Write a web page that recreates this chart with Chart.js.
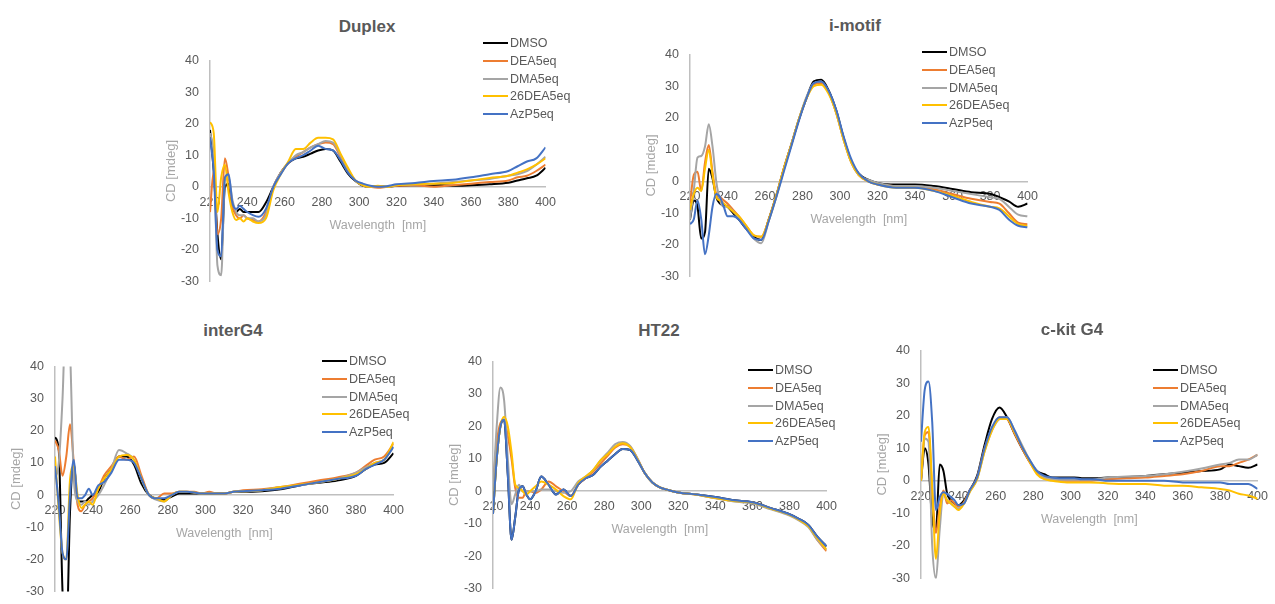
<!DOCTYPE html>
<html lang="en">
<head>
<meta charset="UTF-8">
<title>CD spectra</title>
<script src="https://cdn.jsdelivr.net/npm/chart.js"></script>
<style>
    html, body { margin: 0; padding: 0; background: #fff; overflow: hidden; }
    body { width: 1275px; height: 604px; position: relative; font-family: 'Liberation Sans', Arial, sans-serif; }
    canvas { position: absolute; }
    .title { position: absolute; font-weight: bold; font-size: 17px; color: #595959; transform: translate(-50%, -50%); white-space: nowrap; }
    .legend { position: absolute; font-size: 12.5px; color: #595959; }
    .legend .row { height: 17.8px; display: flex; align-items: center; white-space: nowrap; }
    .legend .sw { display: inline-block; width: 25px; height: 2px; margin-right: 2px; }
</style>
</head>
<body>
<script>
    // wavelength grid (nm), shared by all five spectra
    const wavelengths = [220,222,224,226,228,230,232,234,236,238,240,243,246,250,254,258,262,266,270,274,278,282,286,290,294,298,302,306,310,315,320,330,340,350,360,370,380,385,390,395,400];
    const seriesNames = ['DMSO', 'DEA5eq', 'DMA5eq', '26DEA5eq', 'AzP5eq'];
    const xTicks = { min: 220, max: 400, step: 20 };
    const yTicks = { min: -30, max: 40, step: 10 };

    // Duplex
    const duplexDMSO = [18,5,-15,-23,0,1,-7,-8,-7,-8,-8,-8,-8,-5,0,4.5,7.5,9,9.5,10.5,11.5,12,11.5,8,4.2,1.8,0.3,0,0.2,0,0.3,0.5,0.6,0.3,0.5,0.8,1.3,2,2.7,3.5,6];
    const duplexDEA = [-8,5,-15,-10,9,3,-6,-9,-10,-9,-10,-10.5,-11,-8,0,4.5,7.5,9.5,11,12.5,13.5,14,13.5,9.5,5,2,0.5,0,-0.3,0,0.3,0.5,0,0.5,1,1.5,2,3,3.5,5,7];
    const duplexDMA = [17,10,-25,-28,2,3,-4,-8,-9,-9,-10,-10,-11,-9,0,4.5,7.5,10,11,12.5,13.5,14.5,14,10,5.5,2,0.5,0,0.2,0,0.5,0.8,1,1.5,2,2.5,3.5,4,5,7,9.5];
    const duplex26DEA = [20.5,17,-8,3,7,-2,-8,-10.5,-10,-11,-10,-11,-11.5,-10,-1,4,8,12,12,14,15.5,15.5,15,10.5,6,2,0.5,0,0.3,0,0.5,0.8,1,1.2,2,2.8,3.5,4.5,5.5,7,9];
    const duplexAzP = [15.5,5,-20,-22,3,4,-5,-7,-6,-7,-8,-9,-9.5,-7,0,4,7.5,9,10,11.5,13,12,11.5,8.5,4.5,2,1,0.3,0,0.2,0.8,1.2,1.8,2.2,3,4,5,6.5,8,9,12.5];

    // i-motif
    const imotifDMSO = [-12,-6,-8,-18,-16,4,1,-5,-7,-7.5,-8,-10,-12,-15,-17.5,-18.5,-12,-4.5,4,11.6,19.4,26,31.5,32,28.6,22.3,13.6,6.3,2.4,0.5,-0.5,-1,-1,-1.5,-2.4,-3.4,-3.9,-5,-6.3,-8,-7];
    const imotifDEA = [-7,2,3,-3,6,11.5,3,-4,-5,-6,-7,-9,-11,-14,-17,-17.5,-12,-4.5,4,11.6,19.4,26,30.5,31,28,21.5,13,6,2,0,-1,-1.5,-2,-2.5,-4,-5.5,-6.5,-7,-10,-13,-13.5];
    const imotifDMA = [-12,-3,7.5,8,11,18,11,0,-6,-8,-8,-9.5,-11.5,-14.5,-18,-19.5,-12.5,-5,3.5,11.5,19.5,26.5,31,31.5,28,21.5,13,6,2,0.5,-0.5,-1.5,-1.5,-2,-3,-4,-5,-5.5,-8,-10.5,-11];
    const imotif26DEA = [-9,-4,-2,-3,4,10,2,-5,-6,-7,-8,-9.5,-11,-14,-17,-17.5,-12,-4.5,4,11.5,19.5,26,30,30.5,27.5,21.5,13,6,2,0,-1,-2,-2,-3,-4.5,-6.5,-8,-8.5,-11,-13.5,-14];
    const imotifAzP = [-13.5,-12,-6,-12,-23,-17,-8,-4,-5,-8,-11,-11,-12,-15,-18,-18.5,-12.5,-5,3,11,19,26,31,31.5,28.5,22.5,14,7,2.5,0,-1,-2,-2,-3,-5,-7,-8,-9,-12,-14,-14.5];

    // interG4
    const interDMSO = [18,14,-30,-45,-5,10,-2,-2,-2,-1,0,1,5,8,12,12,9.5,3.5,0,-1.2,-1.5,-0.5,0.5,0.5,0.5,0.5,0.5,0.5,0.5,1,1,1.2,1.8,3,3.8,4.5,6,8,9.5,10,13];
    const interDEA = [17,14,6,12,22,10,-3,-5,-3,-2,-1,2,6,9,12,11,12,6,0,-1,0.5,0.5,1,1,1,0.5,1,0.5,0.5,1,1.5,1.8,2.5,3.5,4.5,5.5,7,9,11,12,16];
    const interDMA = [5,10,30,60,45,5,-2,-3,-2,-3,-2,0,3,8,14,13,11,5,0,-1.5,-2,0,1,1,0.8,0.5,0.5,0.5,0.5,1,1.2,1.5,2.5,3,4,5,7,8.5,10,11,15];
    const inter26DEA = [12,-5,-18,-20,5,9,0,-4,-3,-2,-3,2,5,8,12,12.5,11,5,0,-1,-2,0,1,1,0.8,0.5,0.5,0.5,0.5,1,1.2,1.5,2.5,3.2,4,5,6.5,8,10,11,16.5];
    const interAzP = [9,-3,-18,-20,0,11,-1,-1,0,2,0,3,4,7,11,11,10,5,0,-1,-1,0,1,1,0.8,0.5,0.5,0.5,0.5,1,1.2,1.5,2,3,4,5,6,8,9.5,11,15];

    // HT22
    const ht22DMSO = [-7,10,20,22,5,-15,-8,0.5,1.5,-1,-2.5,0,4.5,2,-1,0.5,-1.5,2,4,5,7.5,9.5,11.5,13,12.7,9.5,5.5,2.7,1.2,0.3,-0.4,-1,-1.8,-2.8,-3.4,-5.2,-7.1,-8.5,-10.3,-14,-17];
    const ht22DEA = [2,15,21,22,17,10,1,-2,-2,0,0,-0.5,0.5,3,1.5,0,-1.5,2,4,6,8.5,11,13.5,14.5,13.8,10,5.5,2.7,1.2,0.3,-0.4,-1.1,-2.1,-3,-3.5,-5.4,-7.3,-8.8,-10.7,-15,-18.5];
    const ht22DMA = [0,20,32,28,10,-4,-1,2,0,0,0,0,0.5,0.5,0,-0.5,0,3,4.5,6.5,9.5,12,14.5,15.2,14,10,5.5,2.7,1.2,0.3,-0.4,-1.1,-2.2,-3.2,-3.8,-5.6,-7.5,-9,-11,-15,-18];
    const ht2226DEA = [-7,10,20,23,20,12,2,1,0,-1,0,1.5,3,2,0.5,-1.5,-2.5,2.5,4.5,6.5,9.5,11.5,13.8,14.8,13.6,9.8,5.5,2.7,1.2,0.3,-0.4,-1.1,-2.1,-3,-3.5,-5.4,-7.3,-8.8,-10.7,-14.5,-18];
    const ht22AzP = [-7,10,20,22,5,-15,-8,0.5,1.5,-1,-2.5,0,4.5,2,-1,0.5,-1.5,2,4,5,7.5,9.5,11.5,13,12.7,9.5,5.5,2.7,1.2,0.3,-0.4,-1,-1.8,-2.8,-3.4,-5.2,-7.1,-8.5,-10.3,-14,-17];

    // c-kit G4
    const ckitDMSO = [0,10,5,-12,-15,5,3,-4,-6,-7,-7.5,-6,-3,1.5,11,19,22.5,19.5,14.5,10,6,3,2,1,1,1,1,0.8,0.8,0.8,1,1.2,1.5,2,2.5,3,3.5,5,4.5,4,5];
    const ckitDEA = [0,14,15,-3,-16,-8,-3,-7,-6,-7,-8,-6.5,-3,1,10,16,19.5,19,14.5,10,5.8,2.5,1,0.5,0,0,0,0,0,0.3,0.5,0.8,1,1.5,2,3,4.5,4.5,5.5,6.5,8];
    const ckitDMA = [0,13,12,-20,-30,-15,-4,-6,-7,-8,-8.5,-7,-3.5,0.5,9,15.5,19,19.5,15.5,11,6.5,3,1,0.5,0.3,0.3,0.3,0.3,0.3,0.6,1,1.3,1.5,2,2.8,3.8,5,5.5,6.5,6.5,8];
    const ckit26DEA = [0,15,16.5,-2,-24,-10,-4,-6,-7,-8,-9,-7,-3.5,0.5,9,15.5,19,19,15,10.5,6,2,0.5,0,-0.3,-0.5,-0.5,-0.5,-0.5,-0.6,-0.8,-1,-1,-1.5,-1.5,-2,-2.5,-3,-4,-4.5,-5.5];
    const ckitAzP = [12,28,30.5,18,-9,-5,-3.5,-4,-5,-6,-7.5,-7,-3,1,10,16.5,19.5,19.5,15.5,10.5,6.5,3,1.5,1,0.8,0.8,0.8,0.5,0.5,0.3,0,0,0,0,-0.5,-0.5,-0.5,-1,-1,-1,-2.5];

    const seriesColors = ['#000000', '#ED7D31', '#A5A5A5', '#FFC000', '#4472C4'];
    const fontFamily = "'Liberation Sans', Arial, sans-serif";
    const axisColor = '#bfbfbf';

    // plot area (L,R,T,B), title centre and legend start for each panel
    const panels = [
        { title: 'Duplex', values: [duplexDMSO, duplexDEA, duplexDMA, duplex26DEA, duplexAzP],
          L: 210, R: 552, T: 52, B: 290, tx: 367, ty: 27, lx: 483, ly: 43 },
        { title: 'i-motif', values: [imotifDMSO, imotifDEA, imotifDMA, imotif26DEA, imotifAzP],
          L: 690, R: 1034, T: 46, B: 285, tx: 855, ty: 26, lx: 922, ly: 52 },
        { title: 'interG4', values: [interDMSO, interDEA, interDMA, inter26DEA, interAzP],
          L: 55, R: 400, T: 358, B: 600, tx: 233, ty: 331, lx: 322, ly: 361 },
        { title: 'HT22', values: [ht22DMSO, ht22DEA, ht22DMA, ht2226DEA, ht22AzP],
          L: 493, R: 833, T: 353, B: 597, tx: 659, ty: 331, lx: 748, ly: 370 },
        { title: 'c-kit G4', values: [ckitDMSO, ckitDEA, ckitDMA, ckit26DEA, ckitAzP],
          L: 921, R: 1264, T: 342, B: 587, tx: 1072, ty: 330, lx: 1153, ly: 370 }
    ];

    Chart.defaults.font.family = fontFamily;

    const yAxisWidth = 46, padRight = 12, padV = 10;

    panels.forEach(p => {
        const canvas = document.createElement('canvas');
        canvas.width = p.R - p.L + yAxisWidth + padRight;
        canvas.height = p.B - p.T + 2 * padV;
        canvas.style.left = (p.L - yAxisWidth) + 'px';
        canvas.style.top = (p.T - padV) + 'px';
        document.body.appendChild(canvas);

        const title = document.createElement('div');
        title.className = 'title';
        title.style.left = p.tx + 'px';
        title.style.top = p.ty + 'px';
        title.textContent = p.title;
        document.body.appendChild(title);

        const legend = document.createElement('div');
        legend.className = 'legend';
        legend.style.left = p.lx + 'px';
        legend.style.top = (p.ly - 8.9) + 'px';
        seriesNames.forEach((name, i) => {
            const row = document.createElement('div');
            row.className = 'row';
            const sw = document.createElement('span');
            sw.className = 'sw';
            sw.style.background = seriesColors[i];
            row.appendChild(sw);
            row.appendChild(document.createTextNode(name));
            legend.appendChild(row);
        });
        document.body.appendChild(legend);

        new Chart(canvas, {
            type: 'line',
            data: {
                datasets: seriesNames.map((name, i) => ({
                    label: name,
                    data: wavelengths.map((w, k) => ({ x: w, y: p.values[i][k] })),
                    borderColor: seriesColors[i],
                    borderWidth: 2,
                    pointRadius: 0,
                    fill: false,
                    cubicInterpolationMode: 'monotone',
                    order: seriesNames.length - i
                }))
            },
            options: {
                responsive: false,
                animation: false,
                layout: { padding: { left: 0, right: padRight, top: padV, bottom: padV } },
                plugins: { legend: { display: false }, tooltip: { enabled: false } },
                scales: {
                    x: {
                        type: 'linear',
                        min: xTicks.min, max: xTicks.max,
                        position: { y: 0 },
                        ticks: { stepSize: xTicks.step, color: '#595959', font: { size: 12.5 }, padding: 8, maxRotation: 0, autoSkip: false },
                        grid: { display: false, drawTicks: false },
                        border: { color: axisColor, width: 1.5 },
                        title: { display: true, text: 'Wavelength  [nm]', color: '#a6a6a6', font: { size: 12.5 }, padding: { top: 0, bottom: 0 } }
                    },
                    y: {
                        min: yTicks.min, max: yTicks.max,
                        ticks: { stepSize: yTicks.step, color: '#595959', font: { size: 12.5 }, padding: 11 },
                        grid: { display: false, drawTicks: false },
                        border: { color: axisColor, width: 1.5 },
                        title: { display: true, text: 'CD [mdeg]', color: '#a6a6a6', font: { size: 13 }, padding: 0 },
                        afterFit: scale => { scale.width = yAxisWidth; }
                    }
                }
            }
        });
    });
</script>
</body>
</html>
